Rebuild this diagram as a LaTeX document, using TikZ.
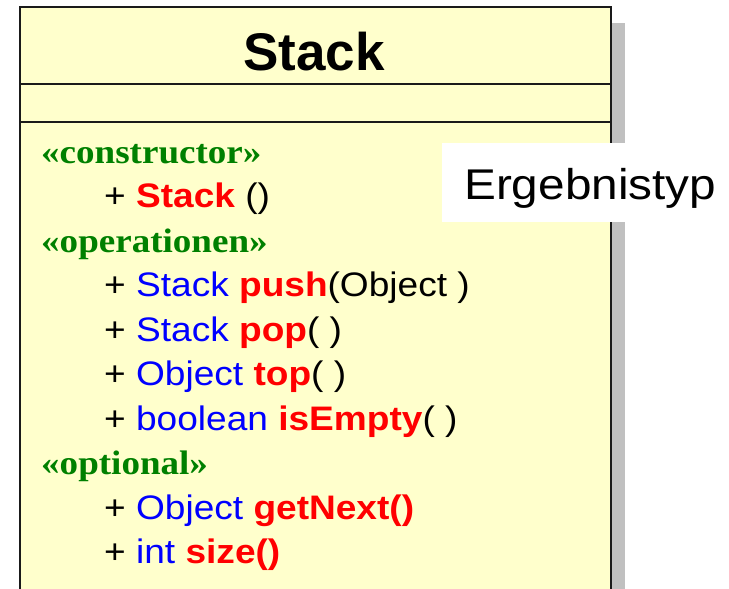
\documentclass[tikz,border=0pt]{standalone}
\usepackage{fontspec}
\setmainfont{Liberation Sans}
\newfontfamily\serifst[FakeStretch=1.09]{Liberation Serif}
\newfontfamily\widesans[FakeStretch=1.11]{Liberation Sans}
\newfontfamily\membersans[FakeStretch=1.09]{Liberation Sans}
\definecolor{classfill}{HTML}{FFFFCC}
\definecolor{shadowgray}{HTML}{C0C0C0}
\definecolor{stereo}{HTML}{008000}
\definecolor{typeblue}{HTML}{0000FF}
\definecolor{opred}{HTML}{FF0000}
\definecolor{frame}{HTML}{1A1A1A}
\newcommand{\ty}[1]{\textcolor{typeblue}{#1}}
\newcommand{\op}[1]{\textcolor{opred}{\bfseries #1}}
\tikzset{
  stereotype/.style={anchor=base west, inner sep=0pt, text=stereo,
    font=\serifst\bfseries\fontsize{34}{38}\selectfont},
  member/.style={anchor=base west, inner sep=0pt,
    font=\membersans\fontsize{34}{38}\selectfont},
  classline/.style={draw=frame, line width=1.6pt}
}
\begin{document}
\begin{tikzpicture}[x=1pt,y=-1pt]
  \useasboundingbox (0,0) rectangle (729,589);
  % drop shadow of the class box
  \fill[shadowgray] (611,23) rectangle (625,589);
  % class box, open at the bottom
  \fill[classfill] (20,7) rectangle (611,589);
  \draw[classline] (20,589) -- (20,7) -- (611,7) -- (611,589);
  \coordinate (l1a) at (20,84);  \coordinate (l1b) at (611,84);
  \coordinate (l2a) at (20,122); \coordinate (l2b) at (611,122);
  \draw[classline] (l1a) -- (l1b);
  \draw[classline] (l2a) -- (l2b);
  % class name
  \node[anchor=base, inner sep=0pt, font=\bfseries\fontsize{53}{56}\selectfont]
    (title) at (314,70) {Stack};
  % operations compartment
  \node[stereotype] (s1) at (41,163) {«constructor»};
  \node[member] (m1) at (104,207) {+ \op{Stack} ()};
  \node[stereotype] (s2) at (41,252) {«operationen»};
  \node[member] (m2) at (104,296) {+ \ty{Stack} \op{push}(Object )};
  \node[member] (m3) at (104,341) {+ \ty{Stack} \op{pop}( )};
  \node[member] (m4) at (104,385) {+ \ty{Object} \op{top}( )};
  \node[member] (m5) at (104,430) {+ \ty{boolean} \op{isEmpty}( )};
  \node[stereotype] (s3) at (41,474) {«optional»};
  \node[member] (m6) at (104,519) {+ \ty{Object} \op{getNext()}};
  \node[member] (m7) at (104,563) {+ \ty{int} \op{size()}};
  % annotation label
  \node[fill=white, anchor=north west, inner sep=0pt, minimum width=287pt,
        minimum height=79pt] (lbl) at (442,143) {};
  \node[anchor=base west, inner sep=0pt, font=\widesans\fontsize{43}{47}\selectfont]
    (ergeb) at (464,199) {Ergebnistyp};
\end{tikzpicture}
\end{document}
